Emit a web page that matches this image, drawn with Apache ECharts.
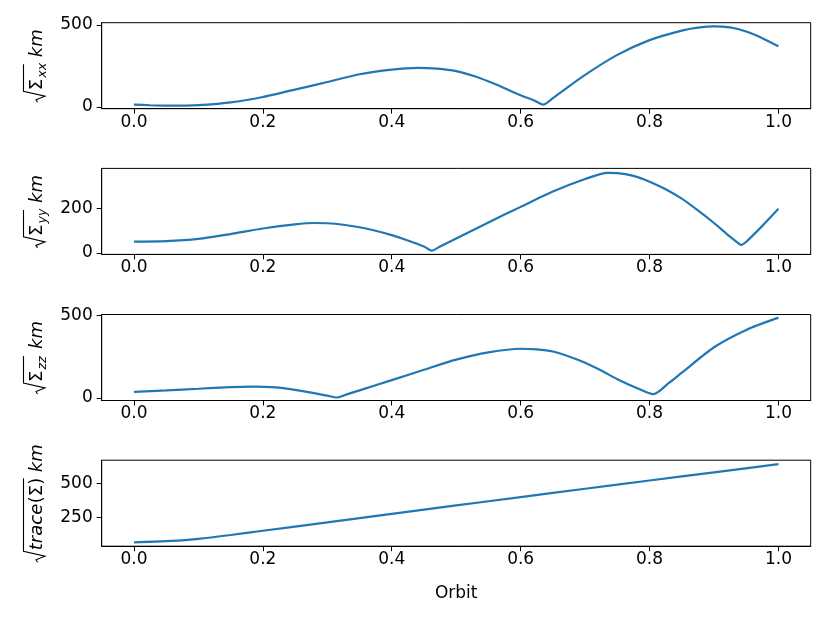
<!DOCTYPE html>
<html><head><meta charset="utf-8">
<script src="https://cdn.jsdelivr.net/npm/echarts@6/dist/echarts.min.js"></script>
<style>html,body{margin:0;padding:0;background:#fff}#c{width:830px;height:623px}</style>
</head><body><div id="c"></div>
<script>
// ---- data ----
const xTicks = [0, 0.2, 0.4, 0.6, 0.8, 1.0];

const orbitXX = [0, 0.025, 0.05, 0.075, 0.1, 0.125, 0.15, 0.175, 0.2, 0.25, 0.3, 0.35, 0.4, 0.44, 0.47, 0.5, 0.53, 0.56, 0.6, 0.62, 0.635, 0.65, 0.7, 0.75, 0.8, 0.85, 0.875, 0.9, 0.925, 0.95, 0.975, 1.0];
const sigmaXX = [15, 11, 9, 9, 12, 18, 29, 43, 61, 106, 153, 200, 228, 239, 234, 219, 186, 140, 72, 42, 15, 55, 196, 318, 408, 466, 484, 492, 485, 460, 420, 370];

const orbitYY = [0, 0.05, 0.1, 0.15, 0.2, 0.25, 0.28, 0.3, 0.325, 0.35, 0.375, 0.4, 0.425, 0.45, 0.462, 0.475, 0.5, 0.525, 0.55, 0.575, 0.6, 0.65, 0.7, 0.735, 0.75, 0.775, 0.8, 0.825, 0.85, 0.875, 0.9, 0.92, 0.935, 0.942, 0.95, 0.975, 1.0];
const sigmaYY = [51, 53, 63, 85, 110, 129, 135, 134, 127, 116, 100, 80, 56, 29, 10, 29, 65, 101, 137, 173, 208, 277, 334, 362, 361, 348, 322, 288, 245, 192, 135, 85, 50, 36, 50, 122, 199];

const orbitZZ = [0, 0.05, 0.1, 0.15, 0.185, 0.22, 0.25, 0.275, 0.3, 0.315, 0.33, 0.35, 0.4, 0.45, 0.5, 0.55, 0.6, 0.625, 0.65, 0.675, 0.7, 0.725, 0.75, 0.78, 0.806, 0.83, 0.85, 0.9, 0.95, 1.0];
const sigmaZZ = [36, 45, 55, 65, 68, 63, 48, 32, 13, 2, 21, 45, 107, 170, 231, 275, 297, 293, 280, 250, 212, 165, 113, 60, 22, 90, 152, 306, 411, 485];

const orbitTR = [0, 0.05, 0.1, 0.15, 0.2, 0.3, 0.4, 0.5, 0.6, 0.7, 0.8, 0.9, 1.0];
const traceTR = [64, 72, 90, 118, 150, 212, 275, 338, 400, 462, 523, 584, 645];

const yTicks = [[0, 500], [0, 200], [0, 500], [250, 500]];
const yRanges = [[-10, 514], [-7, 382], [-16, 504], [35, 674]];
const subs = ['xx', 'yy', 'zz'];

// ---- layout ----
const tops = [22.7, 168.4, 314.5, 460.2];
const H = 86, LEFT = 101.7, RIGHT = 19.3;
const FONT = '"DejaVu Sans", sans-serif';
const BLUE = '#1f77b4';

const chart = echarts.init(document.getElementById('c'));
const seriesX = [orbitXX, orbitYY, orbitZZ, orbitTR];
const seriesY = [sigmaXX, sigmaYY, sigmaZZ, traceTR];

const grid = [], xAxis = [], yAxis = [], series = [];
for (let i = 0; i < 4; i++) {
  grid.push({left: LEFT, right: RIGHT, top: tops[i], height: H, show: true,
    borderColor: '#000', borderWidth: 1, backgroundColor: 'transparent', containLabel: false});
  xAxis.push({type: 'value', gridIndex: i, min: -0.05, max: 1.05,
    axisLine: {show: true, onZero: false, lineStyle: {color: '#000', width: 1}},
    axisTick: {show: true, customValues: xTicks, length: 5, lineStyle: {color: '#000', width: 1}},
    axisLabel: {customValues: xTicks, formatter: v => v.toFixed(1), fontSize: 17, color: '#000', margin: 5, fontFamily: FONT},
    splitLine: {show: false}});
  yAxis.push({type: 'value', gridIndex: i, min: yRanges[i][0], max: yRanges[i][1],
    axisLine: {show: true, onZero: false, lineStyle: {color: '#000', width: 1}},
    axisTick: {show: true, customValues: yTicks[i], length: 5, lineStyle: {color: '#000', width: 1}},
    axisLabel: {customValues: yTicks[i], fontSize: 17, color: '#000', margin: 9, fontFamily: FONT},
    splitLine: {show: false}});
  series.push({type: 'line', xAxisIndex: i, yAxisIndex: i, showSymbol: false, smooth: 0.25,
    lineStyle: {color: BLUE, width: 2.2}, itemStyle: {color: BLUE},
    data: seriesX[i].map((x, k) => [x, seriesY[i][k]])});
}

function txt(text, x, size, italic, dy) {
  return {type: 'text', x: x, y: (dy || 0) - 0.33 * size,
    style: {text: text, font: (italic ? 'italic ' : '') + size + 'px ' + FONT, fill: '#000',
      align: 'left', verticalAlign: 'middle'}};
}
function radical(end) {
  return {type: 'polyline', shape: {points: [[0, -6], [2.5, -7.5], [6, 1.5], [11, -20], [end, -20]]},
    style: {stroke: '#000', lineWidth: 1.1, fill: null}};
}
const graphic = [];
const BX = 43.5;
for (let i = 0; i < 3; i++) {
  const L = 73;
  const cy = tops[i] + H / 2;
  graphic.push({type: 'group', x: BX, y: cy + L / 2, rotation: Math.PI / 2, children: [
    radical(38), txt('Σ', 12, 18, false), txt(subs[i], 24.5, 12.6, true, 3.5), txt('km', 45, 18, true)
  ]});
}
{
  const L = 118;
  const cy = tops[3] + H / 2;
  graphic.push({type: 'group', x: BX, y: cy + L / 2, rotation: Math.PI / 2, children: [
    radical(84), txt('trace', 12, 18, true), txt('(Σ)', 59, 18, false), txt('km', 90, 18, true)
  ]});
}
graphic.push({type: 'text', x: 456.2, y: 594, style: {text: 'Orbit', font: '17px ' + FONT, fill: '#000', align: 'center', verticalAlign: 'middle'}});

chart.setOption({animation: false, backgroundColor: '#fff', grid, xAxis, yAxis, series, graphic});
</script></body></html>
